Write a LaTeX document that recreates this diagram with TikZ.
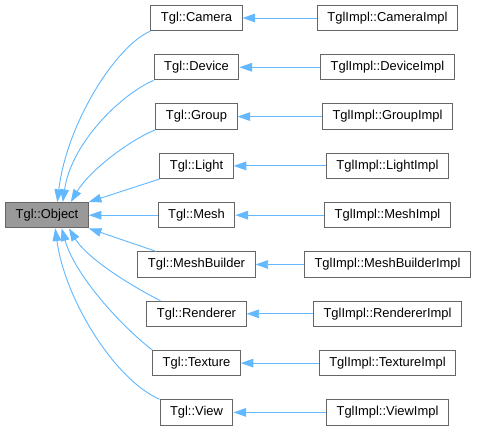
\documentclass[tikz,border=0pt]{standalone}
\usepackage{fontspec}
\setmainfont{Liberation Sans}
\usetikzlibrary{arrows.meta}
\definecolor{edgeblue}{HTML}{63B8FF}
\definecolor{boxgray}{HTML}{666666}
\definecolor{basefill}{HTML}{999999}
\tikzset{
  cls/.style={draw=boxgray, fill=white, line width=0.75pt, minimum height=19pt,
    inner xsep=7.5pt, inner ysep=0pt, font=\fontsize{9.7}{11}\selectfont},
  base/.style={cls, fill=basefill},
  inherit/.style={draw=edgeblue, line width=0.7pt, -{Triangle[length=9.5pt,width=6.5pt]}},
}

\begin{document}
\begin{tikzpicture}[x=0.75pt, y=-0.75pt]
    \useasboundingbox (0, 0) rectangle (477, 431);
    \node [base] (object) at (47, 215.2) {Tgl::Object};

    \node [cls] (camera) at (196.5, 18) {Tgl::Camera};
    \node [cls] (device) at (196.5, 67.3) {Tgl::Device};
    \node [cls] (group) at (196.5, 116.6) {Tgl::Group};
    \node [cls] (light) at (196.5, 165.9) {Tgl::Light};
    \node [cls] (mesh) at (196.5, 215.2) {Tgl::Mesh};
    \node [cls] (meshbuilder) at (196.5, 264.5) {Tgl::MeshBuilder};
    \node [cls] (renderer) at (196.5, 313.8) {Tgl::Renderer};
    \node [cls] (texture) at (196.5, 363.1) {Tgl::Texture};
    \node [cls] (view) at (196.5, 412.4) {Tgl::View};

    \node [cls] (cameraimpl) at (387.5, 18) {TglImpl::CameraImpl};
    \node [cls] (deviceimpl) at (387.5, 67.3) {TglImpl::DeviceImpl};
    \node [cls] (groupimpl) at (387.5, 116.6) {TglImpl::GroupImpl};
    \node [cls] (lightimpl) at (387.5, 165.9) {TglImpl::LightImpl};
    \node [cls] (meshimpl) at (387.5, 215.2) {TglImpl::MeshImpl};
    \node [cls] (meshbuilderimpl) at (387.5, 264.5) {TglImpl::MeshBuilderImpl};
    \node [cls] (rendererimpl) at (387.5, 313.8) {TglImpl::RendererImpl};
    \node [cls] (textureimpl) at (387.5, 363.1) {TglImpl::TextureImpl};
    \node [cls] (viewimpl) at (387.5, 412.4) {TglImpl::ViewImpl};

    % base class edges
    \draw [inherit] (camera.south west) .. controls (117, 45) and (67, 122) .. (object.52);
    \draw [inherit] (device.south west) .. controls (125, 92) and (72, 140) .. (object.40);
    \draw [inherit] (group.south west) .. controls (130, 140) and (90, 170) .. (object.29);
    \draw [inherit] (light.south west) -- (object.north east);
    \draw [inherit] (mesh) -- (object);
    \draw [inherit] (meshbuilder.162) -- (object.south east);
    \draw [inherit] (renderer.160) .. controls (120, 280) and (85, 255) .. (object.-31);
    \draw [inherit] (texture.north west) .. controls (120, 325) and (75, 275) .. (object.-42);
    \draw [inherit] (view.north west) .. controls (115, 380) and (65, 300) .. (object.-58);

    % implementation edges
    \draw [inherit] (cameraimpl) -- (camera);
    \draw [inherit] (deviceimpl) -- (device);
    \draw [inherit] (groupimpl) -- (group);
    \draw [inherit] (lightimpl) -- (light);
    \draw [inherit] (meshimpl) -- (mesh);
    \draw [inherit] (meshbuilderimpl) -- (meshbuilder);
    \draw [inherit] (rendererimpl) -- (renderer);
    \draw [inherit] (textureimpl) -- (texture);
    \draw [inherit] (viewimpl) -- (view);
\end{tikzpicture}
\end{document}
